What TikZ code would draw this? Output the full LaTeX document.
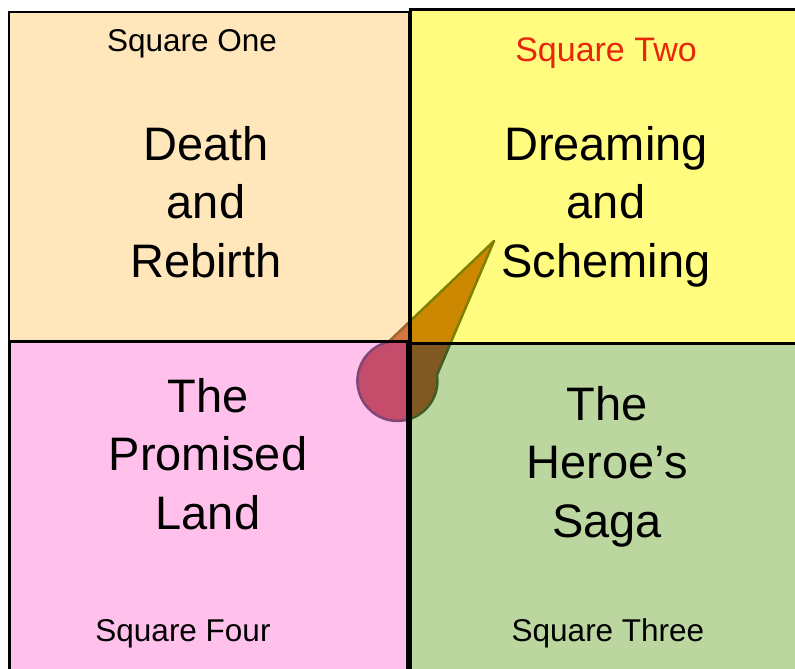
\documentclass[tikz,border=0pt]{standalone}
\usepackage{fontspec}
\setmainfont{Liberation Sans}
\definecolor{sqbeige}{RGB}{255,231,187}
\definecolor{sqyellow}{RGB}{255,252,127}
\definecolor{sqpink}{RGB}{255,192,235}
\definecolor{sqgreen}{RGB}{187,214,158}
\definecolor{ttlred}{RGB}{232,38,10}
\definecolor{pfbeige}{RGB}{208,118,62}
\definecolor{pfyellow}{RGB}{204,136,0}
\definecolor{pfpink}{RGB}{198,76,108}
\definecolor{pfgreen}{RGB}{128,88,34}
\definecolor{pobeige}{RGB}{160,100,50}
\definecolor{poyellow}{RGB}{128,128,0}
\definecolor{popink}{RGB}{128,70,118}
\definecolor{pogreen}{RGB}{64,94,36}
\newcommand\ptrpath{(494,241) -- (437,375) arc[start angle=-8.5, end angle=257, radius=40] -- cycle}
\begin{document}
\begin{tikzpicture}[x=1pt,y=-1pt,
  bord/.style={draw=black,line width=3pt},
  smalltitle/.style={font=\fontsize{31.5}{38}\selectfont,inner sep=0pt,anchor=base},
  bigtext/.style={font=\fontsize{47}{58.5}\selectfont,align=center,inner sep=0pt,anchor=north},
  ptredge/.style={line width=2.5pt,line join=round}]
\useasboundingbox (0,0) rectangle (795,669);
\begin{scope}
\clip (0,0) rectangle (795,669);
% square fills
\fill[sqbeige] (9,12) rectangle (409,341);
\fill[sqyellow] (410,10) rectangle (810,343);
\fill[sqpink] (9,341) rectangle (407,690);
\fill[sqgreen] (410,343) rectangle (810,690);
% pointer, coloured by the square beneath it
\begin{scope}
\clip (0,0) rectangle (409,341);
\fill[pfbeige] \ptrpath;
\draw[ptredge,pobeige] \ptrpath;
\end{scope}
\begin{scope}
\clip (409,0) rectangle (810,342);
\fill[pfyellow] \ptrpath;
\draw[ptredge,poyellow] \ptrpath;
\end{scope}
\begin{scope}
\clip (0,341) rectangle (408,690);
\fill[pfpink] \ptrpath;
\draw[ptredge,popink] \ptrpath;
\end{scope}
\begin{scope}
\clip (408,342) rectangle (810,690);
\fill[pfgreen] \ptrpath;
\draw[ptredge,pogreen] \ptrpath;
\end{scope}
% borders
\draw[bord,line width=2.5pt] (9,12) rectangle (409,341);
\draw[bord] (410,10) rectangle (810,343);
\draw[bord] (9,341) rectangle (407,690);
\draw[bord] (410,343) rectangle (810,690);
\end{scope}
% titles
\node[smalltitle] (t1) at (192,52) {Square One};
\node[smalltitle,text=ttlred,font=\fontsize{34}{40}\selectfont] (t2) at (606,62) {Square Two};
\node[smalltitle] (t3) at (608,641) {Square Three};
\node[smalltitle] (t4) at (183,641) {Square Four};
% main texts
\node[bigtext] (b1) at (206,126) {Death\\and\\Rebirth};
\node[bigtext] (b2) at (606,126) {Dreaming\\and\\Scheming};
\node[bigtext] (b4) at (208,378) {The\\Promised\\Land};
\node[bigtext] (b3) at (607,386) {The\\Heroe’s\\Saga};
\end{tikzpicture}
\end{document}
